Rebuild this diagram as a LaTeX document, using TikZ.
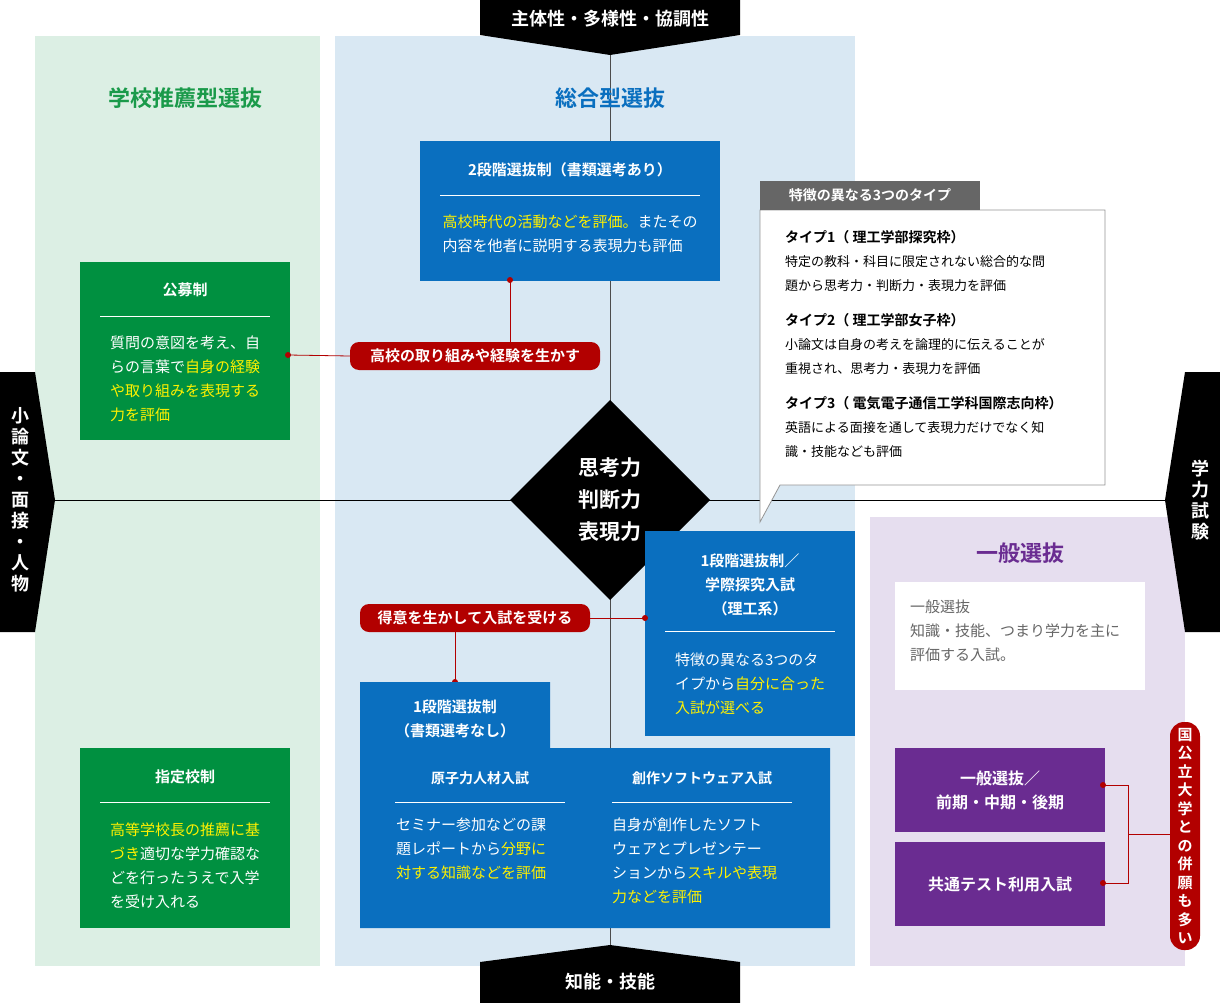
\documentclass[tikz,border=0pt]{standalone}
\usepackage{fontspec}
\setmainfont{Noto Sans CJK JP}
\newfontfamily\jpb{Noto Sans CJK JP Bold}
\definecolor{lgreen}{HTML}{DCEFE4}
\definecolor{lblue}{HTML}{D9E8F3}
\definecolor{lpurp}{HTML}{E6DEEF}
\definecolor{dgreen}{HTML}{009040}
\definecolor{tgreen}{HTML}{1A9A4A}
\definecolor{dblue}{HTML}{0A6FBF}
\definecolor{dpurp}{HTML}{6A2C91}
\definecolor{dred}{HTML}{B20000}
\definecolor{yel}{HTML}{FFF100}
\definecolor{gtxt}{HTML}{666666}
\begin{document}
\begin{tikzpicture}[x=1pt,y=-1pt,
  t/.style={font=\fontsize{15}{24}\selectfont,text=white,align=left,inner sep=0},
  tb/.style={font=\fontsize{15}{24}\jpb,text=white,align=center,inner sep=0},
  ttl/.style={font=\fontsize{22}{24}\jpb},
  pill/.style={fill=dred,rounded corners=9pt,font=\fontsize{15}{18}\jpb,text=white,inner sep=0},
  rl/.style={dred,line width=0.8pt},
  dot/.style={circle,fill=dred,inner sep=0,minimum size=6pt},
  wl/.style={white,line width=0.6pt}]
\useasboundingbox (0,0) rectangle (1220,1003);
% panels
\fill[lgreen] (35,36) rectangle (320,966);
\fill[lblue] (335,36) rectangle (855,966);
\fill[lpurp] (870,517) rectangle (1185,966);
% axes
\draw[line width=0.8pt] (40,500) -- (1180,500);
\draw[line width=0.8pt,black!70] (610,36) -- (610,966);
% banners
\fill[black] (480,0) -- (740,0) -- (740,35) -- (610,55) -- (480,35) -- cycle;
\node[tb,font=\fontsize{18}{20}\jpb] (tb1) at (610,19) {主体性・多様性・協調性};
\fill[black] (480,1003) -- (740,1003) -- (740,962) -- (610,945) -- (480,962) -- cycle;
\node[tb,font=\fontsize{18}{20}\jpb] (tb2) at (610,982) {知能・技能};
\fill[black] (0,372) -- (35,372) -- (55,500) -- (35,632) -- (0,632) -- cycle;
\node[tb,font=\fontsize{18}{21}\jpb] (lb) at (20,500) {小\\論\\文\\・\\面\\接\\・\\人\\物};
\fill[black] (1220,372) -- (1185,372) -- (1165,500) -- (1185,632) -- (1220,632) -- cycle;
\node[tb,font=\fontsize{18}{21}\jpb] (rb) at (1200,500) {学\\力\\試\\験};
% diamond
\fill[black] (610,400) -- (710,500) -- (610,600) -- (510,500) -- cycle;
\node[tb,font=\fontsize{21}{32}\jpb] (dm) at (610,500) {思考力\\判断力\\表現力};
% titles
\node[ttl,text=tgreen] (g1) at (185,98) {学校推薦型選抜};
\node[ttl,text=dblue] (g2) at (610,98) {総合型選抜};
\node[ttl,text=dpurp] (g3) at (1020,553) {一般選抜};
% 2段階
\fill[dblue] (420,141) rectangle (720,281);
\node[tb] (b2t) at (570,170) {2段階選抜制（書類選考あり）};
\draw[wl] (440,195) -- (700,195);
\node[t] (b2x) at (570,234) {\textcolor{yel}{高校時代の活動などを評価。}またその\\内容を他者に説明する表現力も評価};
\coordinate (b2b) at (510,280);
% 公募制
\fill[dgreen] (80,262) rectangle (290,440);
\node[tb] (kt) at (185,290) {公募制};
\draw[wl] (100,316) -- (270,316);
\node[t] (kx) at (185,379) {質問の意図を考え、自\\らの言葉で\textcolor{yel}{自身の経験}\\\textcolor{yel}{や取り組みを表現する}\\\textcolor{yel}{力を評価}};
\coordinate (kr) at (288,355);
% 指定校制
\fill[dgreen] (80,748) rectangle (290,928);
\node[tb] (st) at (185,777) {指定校制};
\draw[wl] (100,802) -- (270,802);
\node[t] (sx) at (185,866) {\textcolor{yel}{高等学校長の推薦に基}\\\textcolor{yel}{づき}適切な学力確認な\\どを行ったうえで入学\\を受け入れる};
% pill 1
\node[pill,minimum width=250pt,minimum height=28pt] (p1) at (475,356) {高校の取り組みや経験を生かす};
\draw[rl] (p1.west) -- (kr);
\draw[rl] (p1.north -| b2b) -- (b2b);
\node[dot] at (kr) {};
\node[dot] at (b2b) {};
% callout
\draw[gtxt!70,line width=0.8pt,fill=white] (760,210) -- (1105,210) -- (1105,485) -- (780,485) -- (760,522) -- cycle;
\fill[gtxt] (760,181) rectangle (980,210);
\node[tb,font=\fontsize{14}{16}\jpb] (ch) at (870,195) {特徴の異なる3つのタイプ};
\node[inner sep=0,align=left,anchor=north west,font=\fontsize{13}{24}\selectfont] (cx) at (785,230)
{{\jpb\fontsize{14}{24}\selectfont タイプ1（ 理工学部探究枠）}\\特定の教科・科目に限定されない総合的な問\\題から思考力・判断力・表現力を評価\\[11pt]
{\jpb\fontsize{14}{24}\selectfont タイプ2（ 理工学部女子枠）}\\小論文は自身の考えを論理的に伝えることが\\重視され、思考力・表現力を評価\\[11pt]
{\jpb\fontsize{14}{24}\selectfont タイプ3（ 電気電子通信工学科国際志向枠）}\\英語による面接を通して表現力だけでなく知\\識・技能なども評価};
% 1段階 学際
\fill[dblue] (645,531) rectangle (855,736);
\node[tb] (b3t) at (750,585) {1段階選抜制／\\学際探究入試\\（理工系）};
\draw[wl] (665,631) -- (835,631);
\node[t] (b3x) at (750,684) {特徴の異なる3つのタ\\イプから\textcolor{yel}{自分に合った}\\\textcolor{yel}{入試が選べる}};
\coordinate (b3l) at (645,618);
% pill 2
\node[pill,minimum width=230pt,minimum height=28pt] (p2) at (475,618) {得意を生かして入試を受ける};
\coordinate (b4t) at (455,682);
\draw[rl] (p2.east) -- (b3l);
\draw[rl] (p2.south -| b4t) -- (b4t);
\node[dot] at (b3l) {};
\node[dot] at (b4t) {};
% 1段階 書類なし
\fill[dblue] (360,682) -- (550,682) -- (550,748) -- (830,748) -- (830,928) -- (360,928) -- cycle;
\node[tb] (b4) at (455,719) {1段階選抜制\\（書類選考なし）};
\node[tb,font=\fontsize{14}{24}\jpb] (c1) at (480,778) {原子力人材入試};
\draw[wl] (395,802) -- (565,802);
\node[t,anchor=north west] (c1x) at (396,818) {セミナー参加などの課\\題レポートから\textcolor{yel}{分野に}\\\textcolor{yel}{対する知識などを評価}};
\node[tb,font=\fontsize{14}{24}\jpb] (c2) at (702,778) {創作ソフトウェア入試};
\draw[wl] (612,802) -- (792,802);
\node[t,anchor=north west] (c2x) at (612,818) {自身が創作したソフト\\ウェアとプレゼンテー\\ションから\textcolor{yel}{スキルや表現}\\\textcolor{yel}{力などを評価}};
% 一般
\fill[white] (895,582) rectangle (1145,690);
\node[t,text=gtxt,anchor=north west] (gx) at (910,600) {一般選抜\\知識・技能、つまり学力を主に\\評価する入試。};
\fill[dpurp] (895,748) rectangle (1105,832);
\node[tb,font=\fontsize{16}{24}\jpb] (k1) at (1000,790) {一般選抜／\\前期・中期・後期};
\fill[dpurp] (895,842) rectangle (1105,926);
\node[tb,font=\fontsize{16}{24}\jpb] (k2) at (1000,884) {共通テスト利用入試};
\coordinate (k1r) at (1103,785);
\coordinate (k2r) at (1103,883);
\coordinate (bm) at (1128,834);
\fill[dred,rounded corners=14pt] (1170,722) rectangle (1200,950);
\node[tb,font=\fontsize{15}{18.5}\jpb] (p3) at (1185,836) {国\\公\\立\\大\\学\\と\\の\\併\\願\\も\\多\\い};
\draw[rl] (k1r) -- (1128,785) -- (1128,883) -- (k2r);
\draw[rl] (bm) -- (1170,834);
\node[dot] at (k1r) {};
\node[dot] at (k2r) {};
\end{tikzpicture}
\end{document}
